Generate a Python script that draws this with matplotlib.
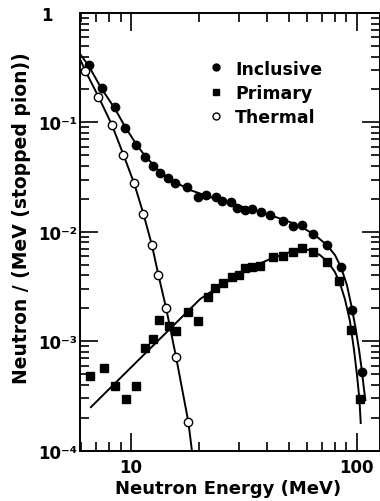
import matplotlib
matplotlib.use('Agg')
import matplotlib.pyplot as plt
from matplotlib.ticker import FixedLocator, FixedFormatter, LogLocator, NullFormatter
from matplotlib.lines import Line2D

# ---- data ----
inclusive_E = [6.47, 7.42, 8.49, 9.41, 10.49, 11.53, 12.48, 13.45, 14.54, 15.67,
               17.62, 19.71, 21.56, 23.68, 25.23, 27.82, 29.49, 31.84, 34.25, 37.48,
               41.5, 47.3, 52.38, 57.06, 64.04, 73.86, 85.2, 95.3, 105.2]
inclusive_v = [0.335, 0.205, 0.139, 0.0883, 0.0625, 0.048, 0.0402, 0.0345, 0.031, 0.0277,
               0.0259, 0.021, 0.0217, 0.0207, 0.019, 0.0186, 0.01643, 0.01572, 0.01606, 0.01517,
               0.0144, 0.01247, 0.01137, 0.01154, 0.00955, 0.00757, 0.00477, 0.00193, 0.000523]

primary_E = [6.54, 7.54, 8.49, 9.45, 10.49, 11.53, 12.45, 13.35, 14.66, 15.87,
             17.89, 19.75, 21.94, 23.56, 25.64, 27.94, 30.01, 32.0, 34.25, 37.29,
             42.37, 46.92, 52.22, 57.53, 64.36, 73.86, 83.5, 94.3, 103.1]
primary_v = [0.000478, 0.000569, 0.000392, 0.000294, 0.000392, 0.000861, 0.001047, 0.00156, 0.00139, 0.001247,
             0.001837, 0.00154, 0.002535, 0.003064, 0.0034, 0.0039, 0.00407, 0.00465, 0.00474, 0.00492,
             0.00594, 0.00601, 0.0066, 0.00707, 0.0065, 0.00535, 0.00357, 0.001266, 0.000296]

thermal_E = [6.26, 7.16, 8.21, 9.24, 10.31, 11.34, 12.36, 13.21, 14.29, 15.83, 17.94]
thermal_v = [0.297, 0.1718, 0.0953, 0.0507, 0.02775, 0.01455, 0.00757, 0.00403, 0.00201, 0.000713, 0.0001826]

# fitted curves
inclusive_fit_E = [5.93, 6.45, 7.36, 8.49, 9.41, 10.52, 11.53, 13.45, 15.67, 18.26, 22.39, 27.46,
                   33.67, 41.29, 50.63, 59.02, 65.35, 73.86, 80.16, 85.2, 90.59, 95.32, 99.29,
                   102.4, 105.6, 107.8, 109.4]
inclusive_fit_v = [0.4218, 0.3347, 0.2063, 0.1326, 0.0908, 0.0635, 0.0493, 0.0352, 0.0285, 0.0241, 0.0208, 0.01834,
                   0.01616, 0.01424, 0.01229, 0.01061, 0.00935, 0.00757, 0.00614, 0.00477, 0.00326, 0.00201, 0.001266,
                   0.000849, 0.000534, 0.000366, 0.00029]

primary_fit_E = [6.63, 20.22, 23.56, 27.46, 33.67, 41.29, 50.63, 56.09, 62.11, 68.78, 74.61, 80.16,
                 84.34, 88.75, 93.42, 97.28, 100.3, 102.9, 104.3]
primary_fit_v = [0.0002503, 0.00243, 0.003, 0.003626, 0.00467, 0.00564, 0.00654, 0.00696, 0.00682, 0.00614, 0.0053, 0.00429,
                 0.0034, 0.00243, 0.00153, 0.000849, 0.000501, 0.000296, 0.000179]

thermal_fit_E = [5.93, 6.26, 7.16, 8.21, 9.24, 10.31, 11.34, 12.36, 13.21, 14.29, 15.83, 17.94, 18.6]
thermal_fit_v = [0.38, 0.297, 0.1718, 0.0953, 0.0507, 0.02775, 0.01455, 0.00757, 0.00403, 0.00201, 0.000713, 0.0001826, 0.0001]

x_ticks = [10, 100]
x_tick_labels = ['10', '100']
y_ticks = [1e-4, 1e-3, 1e-2, 1e-1, 1]
y_tick_labels = ['10\u207b\u2074', '10\u207b\u00b3', '10\u207b\u00b2', '10\u207b\u00b9', '1\u2007\u2007']

series_labels = ['Inclusive', 'Primary', 'Thermal']

# ---- figure ----
plt.rcParams['font.family'] = ['DejaVu Sans']
plt.rcParams['font.weight'] = 'bold'

fig = plt.figure(figsize=(3.8, 5.02), dpi=100)
ax = fig.add_axes([80/380, 1 - 451.7/502, 300/380, (451.7 - 14)/502])

ax.set_xscale('log')
ax.set_yscale('log')
ax.set_xlim(5.93, 127)
ax.set_ylim(1e-4, 1)

lw = 1.4
ax.plot(inclusive_fit_E, inclusive_fit_v, color='black', lw=lw, zorder=2)
ax.plot(primary_fit_E, primary_fit_v, color='black', lw=lw, zorder=2)
ax.plot(thermal_fit_E, thermal_fit_v, color='black', lw=lw, zorder=2)

ms = 6
ax.plot(inclusive_E, inclusive_v, 'o', color='black', ms=ms, zorder=3, linestyle='none')
ax.plot(primary_E, primary_v, 's', color='black', ms=ms - 0.5, zorder=3, linestyle='none')
ax.plot(thermal_E, thermal_v, 'o', mfc='white', mec='black', mew=1.0, ms=ms, zorder=3, linestyle='none')

# ticks
ax.xaxis.set_major_locator(FixedLocator(x_ticks))
ax.xaxis.set_major_formatter(FixedFormatter(x_tick_labels))
ax.xaxis.set_minor_locator(LogLocator(base=10, subs=range(2, 10), numticks=20))
ax.xaxis.set_minor_formatter(NullFormatter())
ax.yaxis.set_major_locator(FixedLocator(y_ticks))
ax.yaxis.set_major_formatter(FixedFormatter(y_tick_labels))
ax.yaxis.set_minor_locator(LogLocator(base=10, subs=range(2, 10), numticks=20))
ax.yaxis.set_minor_formatter(NullFormatter())

ax.tick_params(which='both', direction='in', top=True, right=True, width=1.2, colors='black')
ax.tick_params(which='major', length=13)
ax.tick_params(which='minor', length=6.5)
ax.tick_params(axis='x', which='major', labelsize=12, pad=5)
ax.tick_params(axis='y', which='major', labelsize=12, pad=2)

for s in ax.spines.values():
    s.set_linewidth(1.4)

ax.set_xlabel('Neutron Energy (MeV)', fontsize=13, fontweight='bold')
ax.xaxis.set_label_coords(0.495, -0.0647)
ax.set_ylabel('Neutron / (MeV (stopped pion))', fontsize=13.5, fontweight='bold')
ax.yaxis.set_label_coords(-0.163, 0.533)

handles = [
    Line2D([], [], marker='o', color='black', linestyle='none', ms=ms - 1),
    Line2D([], [], marker='s', color='black', linestyle='none', ms=ms - 1.5),
    Line2D([], [], marker='o', mfc='white', mec='black', mew=1.0, linestyle='none', ms=ms - 1),
]
leg = ax.legend(handles, series_labels, loc='upper left', bbox_to_anchor=(0.425, 0.8936),
                frameon=False, handlelength=1.0, handletextpad=0.6,
                labelspacing=0.36, borderpad=0, borderaxespad=0, numpoints=1,
                prop={'size': 12.5, 'weight': 'bold'})

fig.savefig('out.png', dpi=100)
